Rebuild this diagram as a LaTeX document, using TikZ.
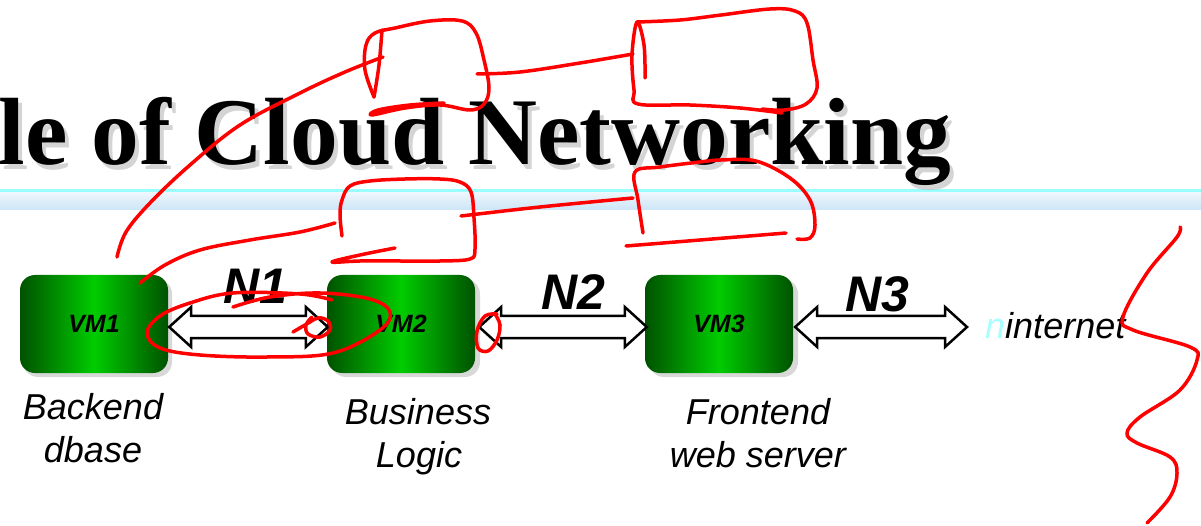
\documentclass[tikz,border=0pt]{standalone}
\usepackage{fontspec}
\setmainfont{Liberation Serif}
\newfontfamily\arialf{Liberation Sans}
\usetikzlibrary{calc}
\definecolor{vmdark}{HTML}{005200}
\definecolor{vmlight}{HTML}{00CC00}
\definecolor{bandline}{HTML}{99FFFF}
\definecolor{bandtop}{HTML}{EEF7FD}
\definecolor{bandbot}{HTML}{CCE5F7}
\definecolor{nlight}{HTML}{A8FFFF}
\tikzset{
  vm/.style={rounded corners=15pt, minimum width=148pt, minimum height=98pt, inner sep=0pt,
    left color=vmdark, right color=vmdark, middle color=vmlight,
    font=\arialf\bfseries\itshape\fontsize{25}{25}\selectfont},
  vmshadow/.style={rounded corners=15pt, fill=black!30, opacity=0.5},
  hollow/.style={draw=black, line width=2.5pt, fill=white, line join=miter},
  nlabel/.style={anchor=base, inner sep=0pt, font=\arialf\bfseries\itshape\fontsize{50}{50}\selectfont},
  caption/.style={anchor=base, inner sep=0pt, font=\arialf\itshape\fontsize{36}{36}\selectfont},
  titletext/.style={anchor=base west, inner sep=0pt, font=\fontsize{95.5}{95.5}\selectfont\bfseries},
  ink/.style={draw=red, line width=3.5pt, line cap=round, line join=round}
}
\newcommand\dblarr[2]{%
  \draw[hollow] let \p1=(#1), \p2=(#2) in
    (\x1,\y1) -- (\x1+22pt,\y1+20pt) -- (\x1+22pt,\y1+11pt) -- (\x2-22pt,\y2+11pt)
    -- (\x2-22pt,\y2+20pt) -- (\x2,\y2) -- (\x2-22pt,\y2-20pt) -- (\x2-22pt,\y2-11pt)
    -- (\x1+22pt,\y1-11pt) -- (\x1+22pt,\y1-20pt) -- cycle;}
\begin{document}
\begin{tikzpicture}[x=1pt,y=-1pt]
\useasboundingbox (0,0) rectangle (1201,526);
% title band
\fill[bandline] (0,189) rectangle (1201,192.5);
\shade[top color=bandtop, bottom color=bandbot] (0,192.5) rectangle (1201,210);
% title with shadow
\node[titletext, text=black!28, opacity=0.6] (titleshadow) at (2.5,170) {le of Cloud Networking};
\node[titletext] (title) at (-1.5,165) {le of Cloud Networking};
% VM shadows
\fill[vmshadow] (23,279) rectangle (172,377);
\fill[vmshadow] (331,279) rectangle (480,377);
\fill[vmshadow] (649,279) rectangle (798,377);
% VMs
\node[vm] (vm1) at (94,324) {VM1};
\node[vm] (vm2) at (401,324) {VM2};
\node[vm] (vm3) at (719,324) {VM3};
\coordinate (inet) at (967,327);
% connectors
\dblarr{$(vm1.east)+(1,3)$}{$(vm2.west)+(1,3)$}
\dblarr{$(vm2.east)+(4,3)$}{$(vm3.west)+(2,3)$}
\dblarr{$(vm3.east)+(2,3)$}{inet}
% labels
\node[nlabel] (n1) at (255,304) {N1};
\node[nlabel] (n2) at (573,310) {N2};
\node[nlabel] (n3) at (877,312) {N3};
\node[caption, anchor=base west] (internet) at (985,338) {{\color{nlight}n}internet};
\node[caption] (c1a) at (93,419) {Backend};
\node[caption] (c1b) at (93,462) {dbase};
\node[caption] (c2a) at (418,424) {Business};
\node[caption] (c2b) at (419,467) {Logic};
\node[caption] (c3a) at (758,424) {Frontend};
\node[caption] (c3b) at (758,467) {web server};
% red ink annotations
\draw[ink] plot[smooth, tension=0.6] coordinates {(117,257) (126,232) (150,203) (190,165) (240,125) (300,93) (345,72) (383,57)};
\draw[ink] plot[smooth, tension=0.6] coordinates {(382,30) (379,65) (374,97)};
\draw[ink] plot[smooth, tension=0.6] coordinates {(374,97) (365,70) (366,45) (375,33) (395,28) (430,21) (462,21) (476,33) (484,60) (489,88) (484,104) (470,110) (440,105) (405,108) (372,115) (378,110) (410,105) (444,103)};
\draw[ink] plot[smooth, tension=0.6] coordinates {(477,74) (520,72) (580,63) (633,54)};
\draw[ink] plot[smooth, tension=0.6] coordinates {(645,78) (644,45) (637,22) (632,55) (634,90) (638,104) (690,105) (740,108) (782,113)};
\draw[ink] plot[smooth, tension=0.6] coordinates {(637,22) (680,20) (721,15) (770,9) (795,11) (807,23) (813,60) (817,88) (806,104) (784,110) (762,109)};
\draw[ink] plot[smooth, tension=0.6] coordinates {(140,283) (165,265) (200,250) (250,240) (300,232) (335,223)};
\draw[ink] plot[smooth, tension=0.6] coordinates {(342,236) (340,215) (342,200) (350,186) (370,181) (405,179) (440,179) (460,182) (471,192) (474,218) (475,249) (470,259) (440,261) (400,261) (360,261) (332,262) (360,255) (395,248)};
\draw[ink] plot[smooth, tension=0.6] coordinates {(461,216) (540,207) (633,198)};
\draw[ink] plot[smooth, tension=0.6] coordinates {(643,233) (638,200) (635,172) (660,167) (700,162) (721,160) (756,161) (790,178) (810,200) (815,225) (810,238) (797,239)};
\draw[ink] plot[smooth, tension=0.6] coordinates {(626,246) (700,240) (786,233)};
\draw[ink] plot[smooth, tension=0.6] coordinates {(332,300) (300,294) (233,293) (190,303) (160,316) (147,333) (160,348) (200,355) (267,357) (333,353) (380,330) (390,312) (370,299) (320,293) (270,297) (233,307)};
\draw[ink] plot[smooth, tension=0.6] coordinates {(293,332) (305,325) (318,318) (328,321) (330,330) (320,337) (308,334) (306,325) (312,317)};
\draw[ink] plot[smooth, tension=0.6] coordinates {(497,314) (485,316) (477,331) (478,348) (488,351) (497,340) (500,325) (495,314)};
\draw[ink] plot[smooth, tension=0.6] coordinates {(1180,227) (1177,237) (1147,273) (1123,317) (1133,330) (1190,347) (1197,360) (1180,390) (1140,417) (1127,433) (1137,443) (1170,457) (1177,473) (1170,497) (1147,523)};
\end{tikzpicture}
\end{document}
